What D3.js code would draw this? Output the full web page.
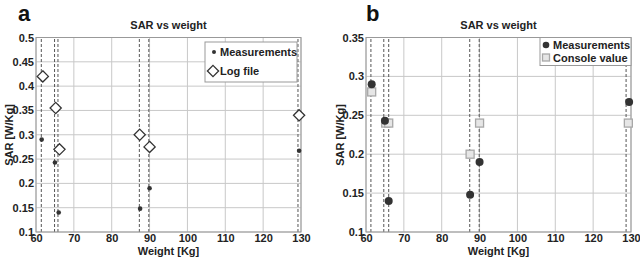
<!DOCTYPE html>
<html>
<head>
<meta charset="utf-8">
<style>
  body { margin: 0; padding: 0; background: #fff; }
  svg { display: block; font-family: Arial, "Liberation Sans", sans-serif; }
  .tick text { font-weight: bold; font-size: 11px; fill: #222; }
  .grid line { stroke: #c8c8c8; stroke-width: 1; }
  .guide { stroke: #555; stroke-width: 1; stroke-dasharray: 3,2; }
</style>
<script src="https://cdnjs.cloudflare.com/ajax/libs/d3/7.8.5/d3.min.js"></script>
</head>
<body>
<svg width="640" height="257"></svg>
<script>
// shared
const weightTicks = [60, 70, 80, 90, 100, 110, 120, 130];
const guideWeightsA = [61.4, 64.9, 65.8, 87.3, 89.8, 129.2];
const guideWeightsB = [61.3, 64.7, 66, 87.4, 89.9, 128.7];

// panel a
const weightsA = [61.5, 65, 66, 87.5, 90, 129.5];
const measA = [0.29, 0.243, 0.14, 0.148, 0.19, 0.267];
const logWeights = [61.8, 65.2, 66.2, 87.4, 90, 129.5];
const logFile = [0.42, 0.355, 0.27, 0.30, 0.275, 0.34];
const sarTicksA = [0.1, 0.15, 0.2, 0.25, 0.3, 0.35, 0.4, 0.45, 0.5];

// panel b
const weightsB = [61.5, 65, 66, 87.5, 90, 129.5];
const measB = [0.29, 0.243, 0.14, 0.148, 0.19, 0.267];
const consoleWeights = [61.5, 65.2, 66, 87.5, 90, 129.3];
const consoleVal = [0.28, 0.24, 0.24, 0.20, 0.24, 0.24];
const sarTicksB = [0.1, 0.15, 0.2, 0.25, 0.3, 0.35];

const svg = d3.select('svg');
const fmt = d => String(+d.toFixed(2));

function panel(opt) {
  const g = svg.append('g');
  const x = d3.scaleLinear().domain([60, 130]).range([opt.x0, opt.x1]);
  const y = d3.scaleLinear().domain(opt.yDomain).range([232, 37.5]);

  // grid
  g.append('g').attr('class', 'grid')
    .selectAll('line.v').data(weightTicks).join('line')
    .attr('x1', d => x(d)).attr('x2', d => x(d)).attr('y1', y.range()[0]).attr('y2', y.range()[1]);
  g.append('g').attr('class', 'grid')
    .selectAll('line.h').data(opt.yTicks).join('line')
    .attr('y1', d => y(d)).attr('y2', d => y(d)).attr('x1', opt.x0).attr('x2', opt.x1);

  // dashed guides
  g.append('g').selectAll('line').data(opt.guides).join('line')
    .attr('class', 'guide')
    .attr('x1', d => x(d)).attr('x2', d => x(d)).attr('y1', y.range()[0]).attr('y2', y.range()[1]);

  // frame
  g.append('rect').attr('x', opt.x0).attr('y', 37.5)
    .attr('width', opt.x1 - opt.x0).attr('height', 232 - 37.5)
    .attr('fill', 'none').attr('stroke', '#999');

  // axes
  const xa = g.append('g').attr('transform', 'translate(0,232)')
    .call(d3.axisBottom(x).tickValues(weightTicks).tickSize(0).tickPadding(2));
  xa.select('.domain').remove();
  const ya = g.append('g').attr('transform', `translate(${opt.x0},0)`)
    .call(d3.axisLeft(y).tickValues(opt.yTicks).tickFormat(fmt).tickSize(0).tickPadding(2));
  ya.select('.domain').remove();

  // titles
  const cx = (opt.x0 + opt.x1) / 2;
  g.append('text').attr('x', cx).attr('y', 29).attr('text-anchor', 'middle')
    .attr('font-weight', 'bold').attr('font-size', 11).attr('fill', '#222').text('SAR vs weight');
  g.append('text').attr('x', cx).attr('y', 255).attr('text-anchor', 'middle')
    .attr('font-weight', 'bold').attr('font-size', 11).attr('fill', '#222').text('Weight [Kg]');
  g.append('text').attr('transform', `translate(${opt.ylx},135) rotate(-90)`)
    .attr('text-anchor', 'middle').attr('font-weight', 'bold').attr('font-size', 11)
    .attr('fill', '#222').text('SAR [W/Kg]');
  g.append('text').attr('x', opt.letterX).attr('y', 21)
    .attr('font-weight', 'bold').attr('font-size', 22).attr('fill', '#111').text(opt.letter);

  return { g, x, y };
}

// ---- panel a ----
const A = panel({ x0: 36, x1: 301, yDomain: [0.1, 0.5], yTicks: sarTicksA,
  guides: guideWeightsA, ylx: 13, letter: 'a', letterX: 18 });

A.g.append('g').selectAll('circle').data(weightsA).join('circle')
  .attr('cx', d => A.x(d)).attr('cy', (d, i) => A.y(measA[i])).attr('r', 2.3).attr('fill', '#333');
const diamond = d3.symbol().type(d3.symbolDiamond2).size(80);
A.g.append('g').selectAll('path').data(logWeights).join('path')
  .attr('d', diamond)
  .attr('transform', (d, i) => `translate(${A.x(d)},${A.y(logFile[i])})`)
  .attr('fill', '#fff').attr('stroke', '#333').attr('stroke-width', 1.3);

// legend a
const la = A.g.append('g');
la.append('rect').attr('x', 205).attr('y', 42).attr('width', 92).attr('height', 40)
  .attr('fill', '#fff').attr('stroke', '#999');
la.append('circle').attr('cx', 214).attr('cy', 52).attr('r', 2).attr('fill', '#333');
la.append('path').attr('d', diamond)
  .attr('transform', 'translate(213,71)')
  .attr('fill', '#fff').attr('stroke', '#333').attr('stroke-width', 1.3);
la.append('text').attr('x', 220).attr('y', 56).attr('font-weight', 'bold')
  .attr('font-size', 11).attr('fill', '#222').text('Measurements');
la.append('text').attr('x', 220).attr('y', 75).attr('font-weight', 'bold')
  .attr('font-size', 11).attr('fill', '#222').text('Log file');

// ---- panel b ----
const B = panel({ x0: 366, x1: 631, yDomain: [0.1, 0.35], yTicks: sarTicksB,
  guides: guideWeightsB, ylx: 344, letter: 'b', letterX: 366 });

B.g.append('g').selectAll('rect').data(consoleWeights).join('rect')
  .attr('x', d => B.x(d) - 4).attr('y', (d, i) => B.y(consoleVal[i]) - 4)
  .attr('width', 8).attr('height', 8)
  .attr('fill', '#e6e6e6').attr('stroke', '#a8a8a8').attr('stroke-width', 1.3);
B.g.append('g').selectAll('circle').data(weightsB).join('circle')
  .attr('cx', d => B.x(d)).attr('cy', (d, i) => B.y(measB[i])).attr('r', 4).attr('fill', '#333');

// legend b
const lb = B.g.append('g');
lb.append('rect').attr('x', 540).attr('y', 37.5).attr('width', 91).attr('height', 28)
  .attr('fill', '#fff').attr('stroke', '#999');
lb.append('circle').attr('cx', 546).attr('cy', 45).attr('r', 3.3).attr('fill', '#333');
lb.append('rect').attr('x', 542.5).attr('y', 54).attr('width', 7).attr('height', 7)
  .attr('fill', '#e6e6e6').attr('stroke', '#a8a8a8').attr('stroke-width', 1.3);
lb.append('text').attr('x', 553).attr('y', 49).attr('font-weight', 'bold')
  .attr('font-size', 11).attr('fill', '#222').text('Measurements');
lb.append('text').attr('x', 553).attr('y', 62).attr('font-weight', 'bold')
  .attr('font-size', 11).attr('fill', '#222').text('Console value');
</script>
</body>
</html>
